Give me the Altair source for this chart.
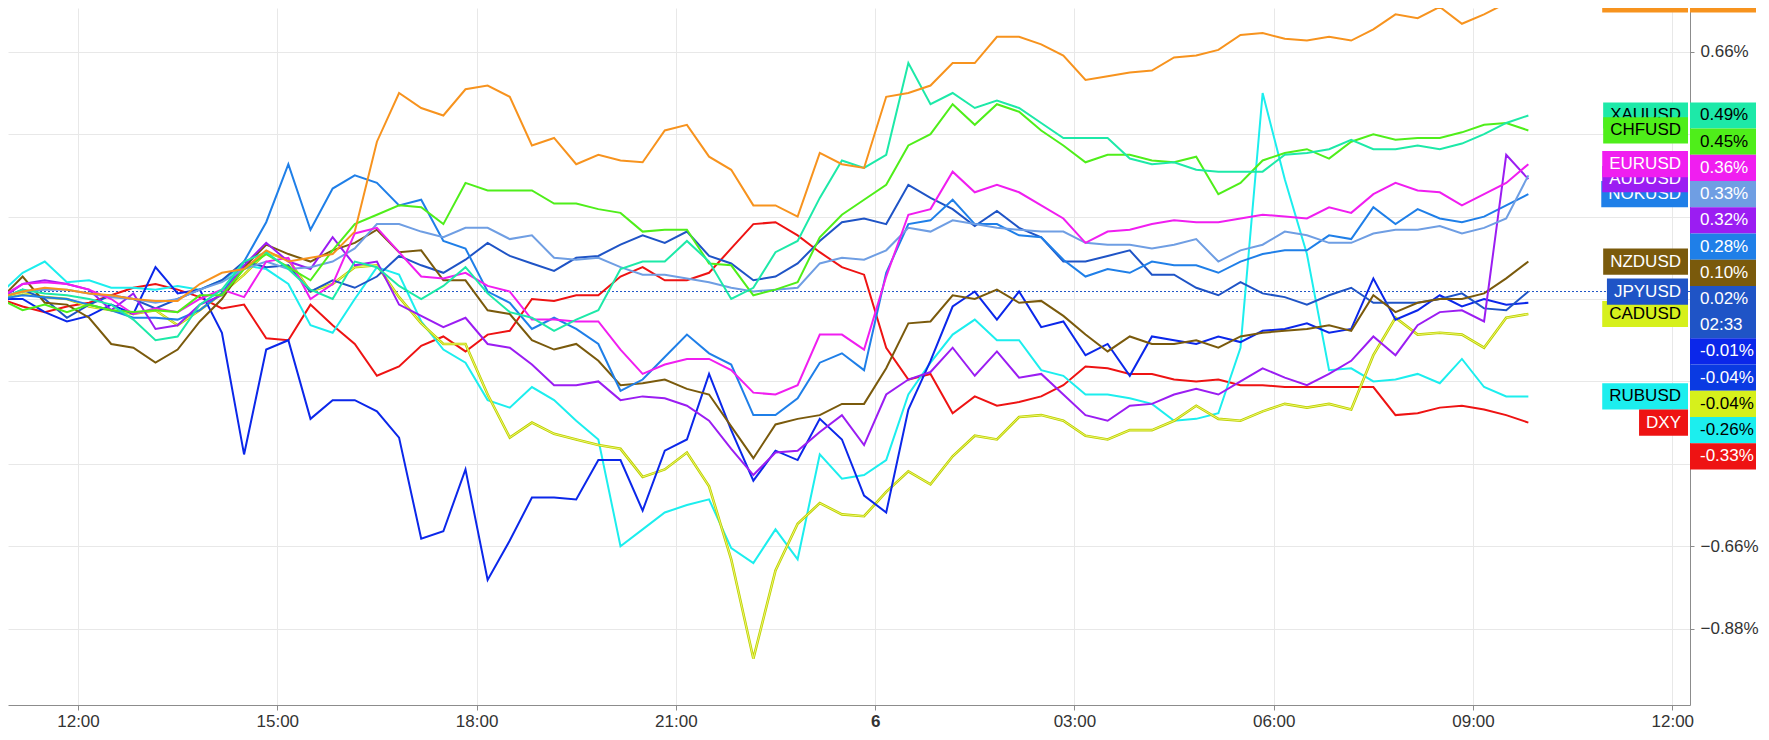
import altair as alt
import pandas as pd

# ------------------------------------------------------------------ data
# percent change series, sampled every 20 minutes, ending 2018-12-06 09:50
GBPUSD = [0.005, 0.02, 0.03, 0.025, 0.015, 0.01, 0.0, -0.005, -0.005, 0.04,
          0.07, 0.08, 0.13, 0.10, 0.11, 0.12, 0.18, 0.42, 0.55, 0.51,
          0.49, 0.56, 0.57, 0.54, 0.41, 0.43, 0.36, 0.385, 0.37, 0.365,
          0.45, 0.465, 0.38, 0.345, 0.25, 0.25, 0.22, 0.39, 0.36, 0.35,
          0.54, 0.55, 0.57, 0.63, 0.63, 0.70, 0.70, 0.68, 0.65, 0.585,
          0.595, 0.605, 0.61, 0.645, 0.65, 0.665, 0.705, 0.71, 0.695, 0.69,
          0.70, 0.69, 0.72, 0.76, 0.75, 0.78, 0.735, 0.76, 0.79, 0.80]
XAUUSD = [0.0, 0.025, 0.015, 0.01, 0.0, -0.015, -0.055, -0.11, -0.10, -0.015,
          0.025, 0.10, 0.125, 0.08, 0.025, 0.0, 0.10, 0.085, 0.035, 0.0,
          0.035, 0.085, 0.015, -0.035, -0.05, -0.085, -0.055, -0.03, 0.08, 0.10,
          0.10, 0.155, 0.10, 0.0, 0.03, 0.125, 0.155, 0.27, 0.37, 0.35,
          0.385, 0.63, 0.52, 0.55, 0.51, 0.53, 0.51, 0.47, 0.43, 0.43,
          0.43, 0.375, 0.36, 0.365, 0.345, 0.34, 0.34, 0.34, 0.385, 0.39,
          0.40, 0.425, 0.40, 0.40, 0.41, 0.40, 0.415, 0.44, 0.47, 0.49]
CHFUSD = [0.0, -0.03, -0.015, -0.035, -0.015, -0.03, -0.035, -0.03, -0.035, 0.01,
          0.01, 0.08, 0.12, 0.085, 0.05, 0.13, 0.20, 0.225, 0.25, 0.245,
          0.20, 0.31, 0.29, 0.29, 0.29, 0.255, 0.255, 0.24, 0.23, 0.18,
          0.185, 0.185, 0.095, 0.09, 0.01, 0.025, 0.045, 0.165, 0.225, 0.265,
          0.305, 0.41, 0.44, 0.52, 0.465, 0.52, 0.50, 0.45, 0.41, 0.365,
          0.385, 0.385, 0.37, 0.365, 0.38, 0.28, 0.31, 0.37, 0.39, 0.40,
          0.375, 0.42, 0.44, 0.425, 0.43, 0.43, 0.445, 0.465, 0.47, 0.45]
EURUSD = [0.005, 0.04, 0.045, 0.04, 0.025, 0.0, -0.04, -0.025, -0.035, 0.0,
          0.025, 0.005, 0.10, 0.11, 0.0, 0.04, 0.175, 0.19, 0.125, 0.06,
          0.055, 0.07, 0.035, 0.02, -0.055, -0.055, -0.06, -0.06, -0.135, -0.20,
          -0.175, -0.16, -0.16, -0.19, -0.25, -0.255, -0.23, -0.095, -0.095, -0.135,
          0.06, 0.225, 0.24, 0.34, 0.285, 0.305, 0.285, 0.25, 0.215, 0.15,
          0.18, 0.185, 0.20, 0.21, 0.205, 0.205, 0.215, 0.225, 0.22, 0.215,
          0.245, 0.23, 0.28, 0.31, 0.29, 0.285, 0.25, 0.28, 0.31, 0.36]
SEKUSD = [0.005, 0.02, 0.025, 0.025, 0.015, 0.005, 0.0, -0.01, 0.0, 0.025,
          0.045, 0.08, 0.10, 0.08, 0.085, 0.10, 0.135, 0.20, 0.20, 0.18,
          0.165, 0.19, 0.19, 0.16, 0.17, 0.11, 0.105, 0.11, 0.085, 0.065,
          0.065, 0.055, 0.045, 0.03, 0.02, 0.025, 0.03, 0.095, 0.11, 0.105,
          0.13, 0.19, 0.18, 0.21, 0.20, 0.19, 0.185, 0.18, 0.18, 0.15,
          0.145, 0.145, 0.135, 0.145, 0.16, 0.10, 0.13, 0.145, 0.18, 0.17,
          0.15, 0.15, 0.175, 0.185, 0.185, 0.195, 0.175, 0.19, 0.215, 0.33]
AUDUSD = [0.0, 0.04, 0.05, 0.04, 0.025, -0.03, 0.015, -0.08, -0.07, -0.015,
          0.01, 0.09, 0.15, 0.10, 0.08, 0.165, 0.09, 0.10, -0.015, -0.045,
          -0.075, -0.05, -0.12, -0.13, -0.175, -0.23, -0.23, -0.22, -0.27, -0.26,
          -0.265, -0.285, -0.325, -0.40, -0.47, -0.41, -0.405, -0.355, -0.31, -0.39,
          -0.255, -0.215, -0.195, -0.13, -0.205, -0.14, -0.21, -0.20, -0.255, -0.31,
          -0.325, -0.285, -0.28, -0.255, -0.24, -0.255, -0.22, -0.185, -0.21, -0.23,
          -0.20, -0.165, -0.10, -0.15, -0.07, -0.035, -0.03, -0.06, 0.385, 0.32]
NOKUSD = [0.0, 0.01, 0.005, 0.0, -0.015, -0.03, -0.05, -0.05, -0.055, -0.03,
          0.015, 0.10, 0.205, 0.36, 0.185, 0.295, 0.33, 0.31, 0.25, 0.265,
          0.155, 0.135, 0.02, -0.01, -0.08, -0.05, -0.08, -0.12, -0.245, -0.215,
          -0.155, -0.095, -0.145, -0.175, -0.31, -0.31, -0.265, -0.17, -0.145, -0.19,
          0.07, 0.20, 0.21, 0.265, 0.20, 0.20, 0.17, 0.165, 0.105, 0.06,
          0.08, 0.07, 0.10, 0.09, 0.09, 0.07, 0.10, 0.12, 0.13, 0.13,
          0.17, 0.16, 0.245, 0.20, 0.24, 0.215, 0.205, 0.22, 0.25, 0.28]
NZDUSD = [0.0, 0.06, -0.01, -0.015, -0.05, -0.12, -0.13, -0.17, -0.135, -0.06,
          0.0, 0.085, 0.145, 0.12, 0.10, 0.13, 0.15, 0.185, 0.125, 0.13,
          0.05, 0.05, -0.03, -0.04, -0.11, -0.135, -0.12, -0.165, -0.23, -0.225,
          -0.215, -0.24, -0.255, -0.34, -0.425, -0.335, -0.32, -0.31, -0.28, -0.28,
          -0.185, -0.065, -0.06, 0.01, 0.0, 0.025, -0.01, -0.005, -0.045, -0.095,
          -0.14, -0.10, -0.12, -0.12, -0.11, -0.13, -0.10, -0.09, -0.085, -0.08,
          -0.07, -0.085, 0.01, -0.035, -0.01, 0.0, 0.0, 0.015, 0.055, 0.10]
JPYUSD = [0.0, 0.025, 0.0, -0.05, -0.015, 0.01, 0.0, -0.025, 0.0, 0.025,
          0.05, 0.10, 0.085, 0.09, 0.02, 0.05, 0.03, 0.06, 0.115, 0.09,
          0.07, 0.105, 0.15, 0.115, 0.095, 0.075, 0.11, 0.115, 0.145, 0.17,
          0.15, 0.18, 0.115, 0.095, 0.05, 0.06, 0.095, 0.155, 0.205, 0.215,
          0.20, 0.305, 0.27, 0.24, 0.195, 0.235, 0.19, 0.165, 0.10, 0.10,
          0.115, 0.13, 0.065, 0.065, 0.03, 0.01, 0.045, 0.015, 0.005, -0.015,
          0.01, 0.03, -0.01, -0.01, -0.01, 0.0, 0.015, -0.025, -0.03, 0.02]
MXNUSD = [0.0, 0.0, -0.035, -0.06, -0.045, -0.015, -0.04, 0.085, 0.015, 0.025,
          -0.09, -0.415, -0.135, -0.11, -0.32, -0.27, -0.27, -0.30, -0.37, -0.64,
          -0.62, -0.455, -0.75, -0.645, -0.53, -0.53, -0.535, -0.43, -0.43, -0.565,
          -0.405, -0.375, -0.20, -0.35, -0.485, -0.405, -0.43, -0.32, -0.375, -0.525,
          -0.57, -0.295, -0.165, -0.02, 0.02, -0.055, 0.02, -0.075, -0.06, -0.15,
          -0.12, -0.205, -0.10, -0.11, -0.12, -0.10, -0.115, -0.085, -0.08, -0.065,
          -0.09, -0.08, 0.055, -0.055, -0.03, 0.01, -0.02, 0.0, -0.015, -0.01]
CNHUSD = [-0.04]
CADUSD = [0.005, 0.015, 0.005, 0.0, -0.02, -0.03, -0.04, -0.03, -0.07, -0.03,
          0.015, 0.065, 0.125, 0.105, 0.02, 0.04, 0.085, 0.09, 0.005, -0.065,
          -0.12, -0.12, -0.255, -0.37, -0.33, -0.36, -0.375, -0.39, -0.40, -0.475,
          -0.455, -0.41, -0.50, -0.695, -0.96, -0.725, -0.60, -0.545, -0.575, -0.58,
          -0.515, -0.46, -0.495, -0.42, -0.365, -0.375, -0.315, -0.31, -0.325, -0.365,
          -0.375, -0.35, -0.35, -0.325, -0.285, -0.32, -0.325, -0.30, -0.28, -0.29,
          -0.28, -0.295, -0.15, -0.05, -0.095, -0.09, -0.095, -0.13, -0.05, -0.04]
RUBUSD = [0.015, 0.07, 0.10, 0.045, 0.05, 0.03, 0.03, 0.025, 0.035, 0.025,
          0.05, 0.09, 0.08, 0.04, -0.07, -0.09, 0.0, 0.085, 0.065, -0.06,
          -0.135, -0.17, -0.27, -0.29, -0.235, -0.27, -0.325, -0.375, -0.66, -0.615,
          -0.57, -0.55, -0.535, -0.665, -0.705, -0.615, -0.695, -0.415, -0.48, -0.47,
          -0.43, -0.255, -0.17, -0.095, -0.055, -0.11, -0.11, -0.19, -0.205, -0.255,
          -0.255, -0.265, -0.28, -0.325, -0.32, -0.305, -0.13, 0.55, 0.32, 0.12,
          -0.19, -0.185, -0.22, -0.215, -0.20, -0.225, -0.16, -0.235, -0.26, -0.26]
DXY = [0.0, -0.02, -0.035, -0.02, -0.01, 0.01, 0.03, 0.04, 0.025, 0.005,
       -0.025, -0.015, -0.105, -0.11, -0.015, -0.07, -0.12, -0.205, -0.18, -0.125,
       -0.10, -0.14, -0.095, -0.085, 0.0, -0.005, 0.01, 0.01, 0.06, 0.085,
       0.05, 0.05, 0.07, 0.135, 0.20, 0.205, 0.17, 0.125, 0.085, 0.065,
       -0.13, -0.215, -0.20, -0.305, -0.26, -0.285, -0.275, -0.26, -0.23, -0.18,
       -0.185, -0.20, -0.20, -0.215, -0.22, -0.215, -0.23, -0.23, -0.235, -0.235,
       -0.235, -0.235, -0.235, -0.31, -0.305, -0.29, -0.285, -0.295, -0.31, -0.33]

VALUES = {"GBPUSD": GBPUSD, "XAUUSD": XAUUSD, "CHFUSD": CHFUSD, "EURUSD": EURUSD,
          "SEKUSD": SEKUSD, "AUDUSD": AUDUSD, "NOKUSD": NOKUSD, "NZDUSD": NZDUSD,
          "JPYUSD": JPYUSD, "MXNUSD": MXNUSD, "CNHUSD": CNHUSD, "CADUSD": CADUSD,
          "RUBUSD": RUBUSD, "DXY": DXY}
COLORS = {"GBPUSD": "#f7931e", "XAUUSD": "#1de9a8", "CHFUSD": "#4fee1a", "EURUSD": "#f01ef0",
          "SEKUSD": "#6f9ee3", "AUDUSD": "#9b1df2", "NOKUSD": "#1f7fe8", "NZDUSD": "#7a5a0c",
          "JPYUSD": "#1f54c6", "MXNUSD": "#0b27ea", "CNHUSD": "#0a3ae2", "CADUSD": "#d6f01c",
          "RUBUSD": "#1ceeee", "DXY": "#ee1313"}
DARK_TEXT = ["XAUUSD", "CHFUSD", "CADUSD", "RUBUSD"]
DRAW_ORDER = ["DXY", "RUBUSD", "CADUSD", "MXNUSD", "JPYUSD", "NZDUSD", "NOKUSD",
              "AUDUSD", "SEKUSD", "EURUSD", "CHFUSD", "XAUUSD", "GBPUSD"]
TAG_ORDER = ["GBPUSD", "XAUUSD", "CHFUSD", "EURUSD", "SEKUSD", "AUDUSD", "NOKUSD",
             "NZDUSD", "JPYUSD", "MXNUSD", "CNHUSD", "CADUSD", "RUBUSD", "DXY"]
NAME_TAGS = ["GBPUSD", "XAUUSD", "CHFUSD", "NOKUSD", "AUDUSD", "EURUSD", "NZDUSD",
             "CADUSD", "JPYUSD", "RUBUSD", "DXY"]
MAIN = "JPYUSD"
COUNTDOWN = "02:33"
X_TICKS = [(5, 12), (5, 15), (5, 18), (5, 21), (6, 0), (6, 3), (6, 6), (6, 9), (6, 12)]
Y_TICKS = [-0.88, -0.66, -0.44, -0.22, 0.0, 0.22, 0.44, 0.66]

T_END = pd.Timestamp("2018-12-06 09:50")
STEP = pd.Timedelta(minutes=20)

# ------------------------------------------------------------------ layout
W, H = 1682, 697
FONT = "Liberation Sans"
TAG_H = 0.07  # tag height in value units (~26px)

# ---- value tags, stacked downward so they never overlap
entries = []
for name in TAG_ORDER:
    v = VALUES[name][-1]
    entries.append({"v": v, "label": f"{v:.2f}%", "bg": COLORS[name],
                    "fg": "#000000" if name in DARK_TEXT else "#ffffff", "name": name})
entries.sort(key=lambda e: -e["v"])
idx = [e["name"] for e in entries].index(MAIN)
entries.insert(idx + 1, {"v": VALUES[MAIN][-1], "label": COUNTDOWN, "bg": COLORS[MAIN],
                         "fg": "#ffffff", "name": "countdown"})
prev = None
for e in entries:
    top = e["v"] + TAG_H / 2
    if prev is not None and top > prev:
        top = prev
    e["top"], e["bot"], e["mid"] = top, top - TAG_H, top - TAG_H / 2
    prev = e["bot"]
tags = pd.DataFrame(entries)

# axis labels that are not hidden behind a price tag
visible_ticks = [t for t in Y_TICKS if not any(e["bot"] - 0.01 <= t <= e["top"] + 0.01 for e in entries)]
vis_test = " || ".join(f"abs(datum.value - ({t})) < 0.0001" for t in visible_ticks) or "false"

xs = alt.Scale(domain=[alt.DateTime(year=2018, month=12, date=5, hours=10, minutes=56, seconds=47),
                       alt.DateTime(year=2018, month=12, date=6, hours=12, minutes=16)], nice=False)
ys = alt.Scale(domain=[-1.084, 0.777], nice=False, zero=False)

x_axis = alt.Axis(
    values=[alt.DateTime(year=2018, month=12, date=d, hours=h) for d, h in X_TICKS],
    labelExpr="hours(datum.value) == 0 ? '' + date(datum.value) : timeFormat(datum.value, '%H:%M')",
    labelFontWeight={"condition": {"test": "hours(datum.value) == 0", "value": "bold"}, "value": "normal"},
    grid=True, gridColor="#e8e8e8", domainColor="#8c8c8c", tickColor="#8c8c8c",
    tickSize=5, labelPadding=3, labelFontSize=17, labelColor="#333333", labelFont=FONT,
    title=None, labelFlush=False, labelOverlap=False)
y_axis = alt.Axis(
    orient="right", values=Y_TICKS,
    labelExpr=f"({vis_test}) ? format(datum.value, '.2f') + '%' : ''",
    grid=True, gridColor="#e8e8e8", domainColor="#8c8c8c", tickColor="#8c8c8c",
    tickSize=4, labelPadding=6, labelFontSize=17, labelColor="#333333", labelFont=FONT,
    title=None, labelFlush=False, labelOverlap=False)


def X(field):
    return alt.X(f"{field}:T", scale=xs, axis=x_axis, title=None)


def Y(field):
    return alt.Y(f"{field}:Q", scale=ys, axis=y_axis, title=None)


def frame(name):
    vals = VALUES[name]
    n = len(vals)
    return pd.DataFrame({"time": [T_END - STEP * (n - 1 - i) for i in range(n)],
                         "value": vals, "series": name})


layers = []

# dotted line at the main symbol's last value
layers.append(alt.Chart(pd.DataFrame({"value": [VALUES[MAIN][-1]]})).mark_rule(
    color=COLORS[MAIN], strokeWidth=1, strokeDash=[2, 2]).encode(y=Y("value")))

for name in DRAW_ORDER:
    df = frame(name)
    if name == "CADUSD":
        layers.append(alt.Chart(df).mark_line(color="#bccf00", strokeWidth=2.6).encode(
            x=X("time"), y=Y("value")))
        layers.append(alt.Chart(df).mark_line(color="#eef86e", strokeWidth=1.0).encode(
            x=X("time"), y=Y("value")))
    else:
        layers.append(alt.Chart(df).mark_line(color=COLORS[name], strokeWidth=2).encode(
            x=X("time"), y=Y("value")))

layers.append(alt.Chart(tags).mark_rect().encode(
    x=alt.value(W), x2=alt.value(W + 66), y=Y("top"), y2="bot",
    fill=alt.Fill("bg:N", scale=None)))
layers.append(alt.Chart(tags).mark_text(align="left", baseline="middle", fontSize=17, font=FONT).encode(
    x=alt.value(W + 10), y=Y("mid"), text="label:N", color=alt.Color("fg:N", scale=None)))

# ---- name tags at each series' last value
CHAR_W = {"A": .667, "B": .667, "C": .722, "D": .722, "E": .667, "F": .611, "G": .778, "H": .722,
          "J": .5, "K": .667, "N": .722, "O": .778, "P": .667, "R": .722, "S": .667, "U": .722,
          "X": .667, "Y": .667, "Z": .611, "M": .833}
RIGHT = W - 2
for name in NAME_TAGS:
    v = VALUES[name][-1]
    width = sum(CHAR_W.get(c, .667) for c in name) * 17 + 14
    left = RIGHT - width
    d = pd.DataFrame({"top": [v + TAG_H / 2], "bot": [v - TAG_H / 2], "mid": [v], "label": [name]})
    layers.append(alt.Chart(d).mark_rect(color=COLORS[name]).encode(
        x=alt.value(left), x2=alt.value(RIGHT), y=Y("top"), y2="bot"))
    layers.append(alt.Chart(d).mark_text(
        align="center", baseline="middle", fontSize=17, font=FONT,
        color="#000000" if name in DARK_TEXT else "#ffffff").encode(
        x=alt.value((left + RIGHT) / 2), y=Y("mid"), text="label:N"))

chart = alt.layer(*layers).properties(
    width=W, height=H,
    autosize=alt.AutoSizeParams(type="none"),
    padding={"left": 0, "top": 0, "right": 71, "bottom": 27},
    background="#ffffff",
).configure_view(strokeWidth=0)

chart.save("out.html", embed_options={"renderer": "svg", "actions": False})
